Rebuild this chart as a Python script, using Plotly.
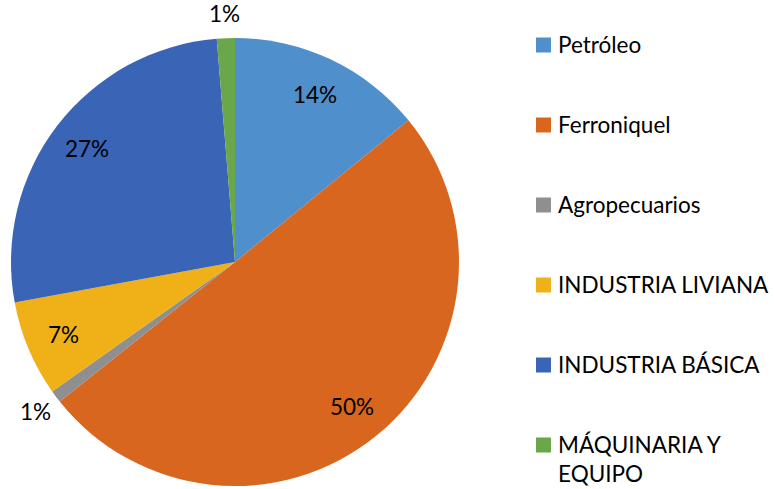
import math
import plotly.graph_objects as go

categories = ["Petróleo", "Ferroniquel", "Agropecuarios", "INDUSTRIA LIVIANA", "INDUSTRIA BÁSICA", "MÁQUINARIA Y EQUIPO"]
legend_labels = ["Petróleo", "Ferroniquel", "Agropecuarios", "INDUSTRIA LIVIANA", "INDUSTRIA BÁSICA", "MÁQUINARIA Y<br>EQUIPO"]
values = [14.1, 50.2, 0.9, 6.9, 26.6, 1.3]
colors = ["#4F8FCB", "#D9661F", "#8F8F8F", "#EFB117", "#3A64B5", "#69A74A"]
label_inside = [True, True, False, True, True, False]

W, H = 774, 489
CX, CY, R = 235, 262, 224  # pie centre / radius in pixels
font_family = "Lato, 'Open Sans', sans-serif"
FS = 22.5

fig = go.Figure()
fig.add_trace(go.Pie(
    labels=categories,
    values=values,
    sort=False,
    direction="clockwise",
    rotation=0,
    marker=dict(colors=colors, line=dict(color="white", width=0)),
    textinfo="none",
    showlegend=False,
    domain=dict(x=[(CX - R) / W, (CX + R) / W], y=[1 - (CY + R) / H, 1 - (CY - R) / H]),
    hoverinfo="label+percent",
))

annotations = []
shapes = []

# percentage labels placed at each slice's mid-angle
total = sum(values)
cum = 0.0
for v, inside in zip(values, label_inside):
    mid = (cum + v / 2) / total * 2 * math.pi
    cum += v
    dist = 0.83 * R if inside else R + 25
    px = CX + dist * math.sin(mid)
    py = CY - dist * math.cos(mid)
    annotations.append(dict(xref="paper", yref="paper", x=px / W, y=1 - py / H,
                            xanchor="center", yanchor="middle", showarrow=False,
                            text=f"{round(v / total * 100)}%",
                            font=dict(family=font_family, size=FS, color="black")))

# manual legend
legend_y = [45, 125, 205, 285, 365, 445]
for lab, col, yc in zip(legend_labels, colors, legend_y):
    shapes.append(dict(type="rect", xref="paper", yref="paper",
                       x0=536 / W, x1=551 / W, y0=1 - (yc + 7.5) / H, y1=1 - (yc - 7.5) / H,
                       fillcolor=col, line=dict(width=0)))
    annotations.append(dict(xref="paper", yref="paper", x=556 / W, y=1 - (yc - 16) / H,
                            xanchor="left", yanchor="top", text=lab, showarrow=False,
                            align="left",
                            font=dict(family=font_family, size=FS, color="black")))

fig.update_layout(
    width=W, height=H,
    margin=dict(l=0, r=0, t=0, b=0),
    paper_bgcolor="white",
    plot_bgcolor="white",
    shapes=shapes,
    annotations=annotations,
)

fig.write_html("out.html", config={"displayModeBar": False},
               post_script="document.body.style.margin='0';")
